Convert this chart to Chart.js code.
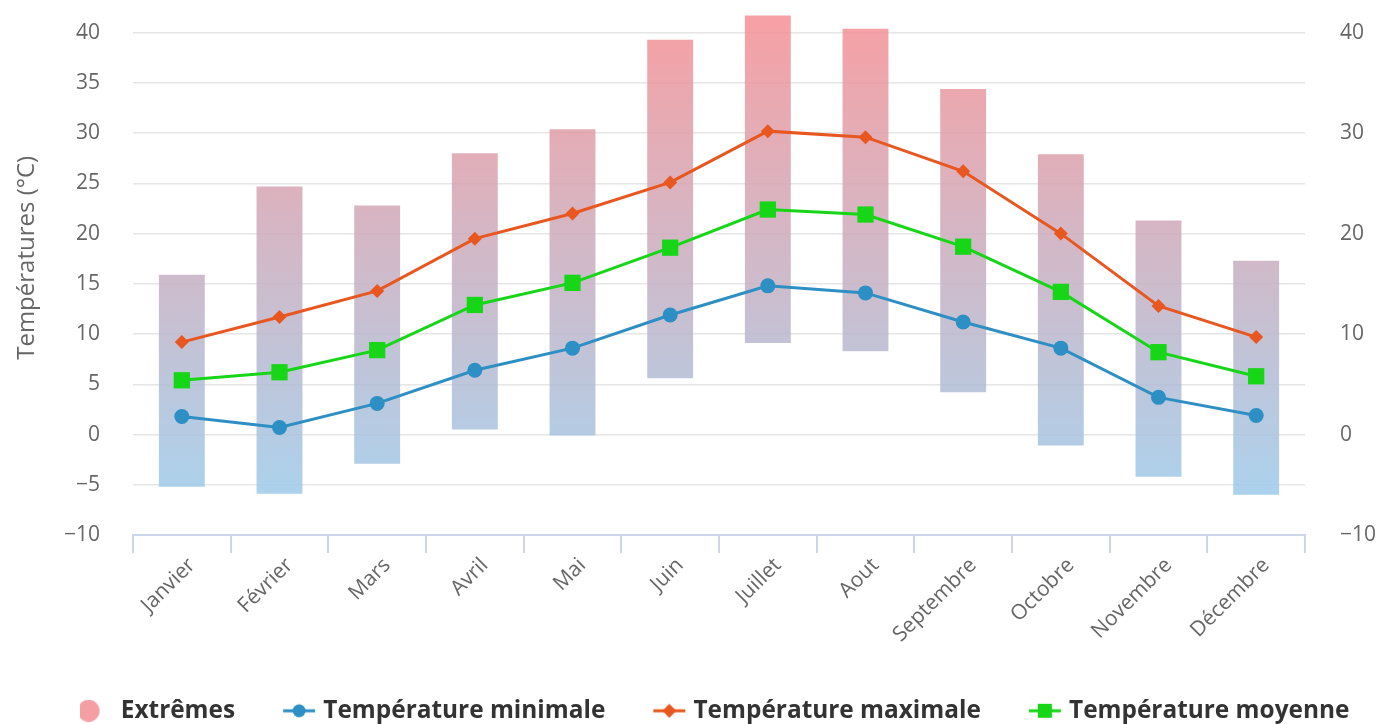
<!DOCTYPE html>
<html>
<head>
<meta charset="utf-8">
<script src="https://cdn.jsdelivr.net/npm/chart.js@4.4.1/dist/chart.umd.min.js"></script>
<style>
  html, body { margin: 0; padding: 0; background: #fff; }
  #wrap { width: 1382px; height: 724px; position: relative; }
</style>
</head>
<body>
<div id="wrap"><canvas id="chart"></canvas></div>
<script>
const months = ["Janvier", "Février", "Mars", "Avril", "Mai", "Juin", "Juillet", "Aout", "Septembre", "Octobre", "Novembre", "Décembre"];
const extremeLow = [-5.2, -5.9, -2.9, 0.5, -0.1, 5.6, 9.1, 8.3, 4.2, -1.1, -4.2, -6.0];
const extremeHigh = [15.9, 24.7, 22.8, 28.0, 30.4, 39.3, 41.7, 40.4, 34.4, 27.9, 21.3, 17.3];
const tempMin = [1.8, 0.7, 3.1, 6.4, 8.6, 11.9, 14.8, 14.1, 11.2, 8.6, 3.7, 1.9];
const tempMax = [9.2, 11.7, 14.3, 19.5, 22.0, 25.1, 30.2, 29.6, 26.2, 20.0, 12.8, 9.7];
const tempMean = [5.4, 6.2, 8.4, 12.9, 15.1, 18.6, 22.4, 21.9, 18.7, 14.2, 8.2, 5.8];
const leftTicks = [-10, -5, 0, 5, 10, 15, 20, 25, 30, 35, 40];
const rightTicks = [-10, 0, 10, 20, 30, 40];

const blue = "#2e8fc4";
const orange = "#e8571f";
const green = "#17d617";
const pink = "#f59fa4";
const font = "'Open Sans', sans-serif";

// legend icons: line with marker in the middle
function legendIcon(color, shape) {
  const c = document.createElement("canvas");
  c.width = 34; c.height = 22;
  const ctx = c.getContext("2d");
  ctx.fillStyle = color;
  if (shape === "dot") {
    ctx.beginPath();
    ctx.arc(9, 11, 11, 0, Math.PI * 2);
    ctx.fill();
    return c;
  }
  ctx.strokeStyle = color;
  ctx.lineWidth = 3;
  ctx.beginPath();
  ctx.moveTo(1, 11); ctx.lineTo(33, 11);
  ctx.stroke();
  ctx.beginPath();
  if (shape === "circle") {
    ctx.arc(17, 11, 6.5, 0, Math.PI * 2);
  } else if (shape === "diamond") {
    ctx.moveTo(17, 4); ctx.lineTo(24, 11); ctx.lineTo(17, 18); ctx.lineTo(10, 11);
    ctx.closePath();
  } else {
    ctx.rect(10, 4, 14, 14);
  }
  ctx.fill();
  return c;
}

const icons = [
  legendIcon(pink, "dot"),
  legendIcon(blue, "circle"),
  legendIcon(orange, "diamond"),
  legendIcon(green, "square")
];

function barGradient(context) {
  const chart = context.chart;
  if (!chart.chartArea) return pink;
  const y = chart.scales.y;
  const g = chart.ctx.createLinearGradient(0, y.getPixelForValue(42), 0, y.getPixelForValue(-10));
  g.addColorStop(0, "rgba(246,143,147,0.85)");
  g.addColorStop(1, "rgba(149,207,240,0.85)");
  return g;
}

const minus = v => (v < 0 ? "\u2212" + Math.abs(v) : String(v));

// nudge legend, x labels clip box and y title to where the original puts them
const nudge = {
  id: "nudge",
  afterLayout(chart) {
    const l = chart.legend;
    l.left += 26; l.right += 26;
    l.top += 9; l.bottom += 9;
    chart.scales.x.bottom += 30;
    chart.scales.y.top -= 32;
  }
};

new Chart(document.getElementById("chart"), {
  type: "bar",
  data: {
    labels: months,
    datasets: [
      {
        type: "bar",
        label: "Extrêmes",
        data: months.map((m, i) => [extremeLow[i], extremeHigh[i]]),
        backgroundColor: barGradient,
        borderWidth: 0,
        categoryPercentage: 1,
        barPercentage: 0.47,
        order: 2
      },
      {
        type: "line",
        label: "Température minimale",
        data: tempMin,
        borderColor: blue,
        backgroundColor: blue,
        borderWidth: 3,
        pointStyle: "circle",
        pointRadius: 7.5,
        pointHoverRadius: 8.5,
        pointBorderWidth: 0,
        order: 1
      },
      {
        type: "line",
        label: "Température maximale",
        data: tempMax,
        borderColor: orange,
        backgroundColor: orange,
        borderWidth: 3,
        pointStyle: "rectRot",
        pointRadius: 7,
        pointHoverRadius: 8,
        pointBorderWidth: 0,
        order: 1
      },
      {
        type: "line",
        label: "Température moyenne",
        data: tempMean,
        borderColor: green,
        backgroundColor: green,
        borderWidth: 3,
        pointStyle: "rect",
        pointRadius: 11.5,
        pointHoverRadius: 12,
        pointBorderWidth: 0,
        order: 1
      }
    ]
  },
  options: {
    responsive: true,
    maintainAspectRatio: false,
    animation: false,
    layout: { padding: 0 },
    plugins: {
      legend: {
        position: "bottom",
        labels: {
          usePointStyle: true,
          pointStyleWidth: 24,
          padding: 52,
          color: "#333333",
          font: { family: font, size: 24.4, weight: "bold" },
          generateLabels(chart) {
            return chart.data.datasets.map((ds, i) => ({
              text: ds.label,
              pointStyle: icons[i],
              fillStyle: "transparent",
              strokeStyle: "transparent",
              lineWidth: 0,
              fontColor: "#333333",
              hidden: !chart.isDatasetVisible(i),
              datasetIndex: i
            }));
          }
        }
      }
    },
    scales: {
      x: {
        grid: {
          offset: true,
          drawOnChartArea: false,
          drawTicks: true,
          tickLength: 18,
          color: "#ccd6eb",
          lineWidth: 2
        },
        border: { color: "#ccd6eb", width: 2 },
        ticks: {
          minRotation: 45,
          maxRotation: 45,
          autoSkip: false,
          padding: 0,
          labelOffset: 10,
          color: "#666666",
          font: { family: font, size: 21 }
        },
        afterFit(scale) { scale.height = 102.6; }
      },
      y: {
        position: "left",
        min: -10,
        max: 42,
        ticks: {
          padding: 0,
          color: "#666666",
          font: { family: font, size: 21 },
          callback: v => minus(v)
        },
        afterBuildTicks(scale) {
          scale.ticks = leftTicks.map(v => ({ value: v }));
        },
        grid: { color: "#e6e6e6", lineWidth: 1.5, drawTicks: true, tickLength: 33, tickColor: "transparent" },
        border: { display: false },
        title: {
          display: true,
          text: "Températures (°C)",
          color: "#666666",
          padding: { top: 13, bottom: 0 },
          font: { family: font, size: 24 }
        },
        afterFit(scale) { scale.width = 133; }
      },
      y2: {
        position: "right",
        min: -10,
        max: 42,
        ticks: {
          padding: 0,
          color: "#666666",
          font: { family: font, size: 21 },
          callback: v => minus(v)
        },
        afterBuildTicks(scale) {
          scale.ticks = rightTicks.map(v => ({ value: v }));
        },
        grid: { drawOnChartArea: false, drawTicks: true, tickLength: 35, tickColor: "transparent" },
        border: { display: false },
        afterFit(scale) { scale.width = 77; }
      }
    }
  },
  plugins: [nudge]
});
</script>
</body>
</html>
